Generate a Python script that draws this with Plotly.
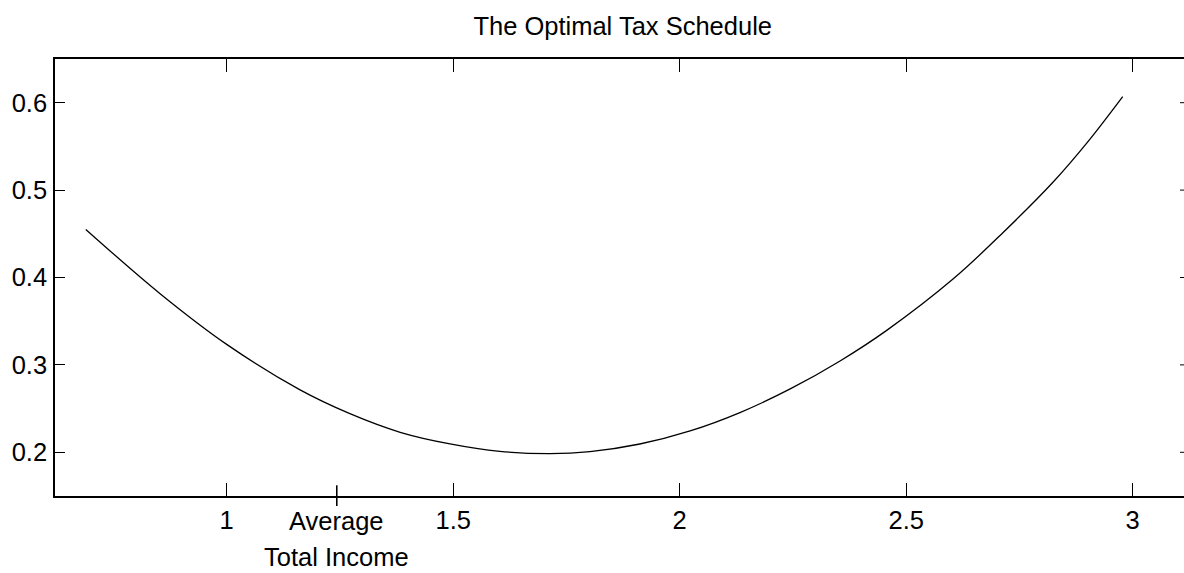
import plotly.graph_objects as go

# ---- data ----
income = [0.689, 0.853, 1.000, 1.162, 1.272, 1.383, 1.493, 1.603, 1.714, 1.802,
          1.912, 2.023, 2.133, 2.244, 2.354, 2.457, 2.604, 2.714, 2.825, 2.899, 2.978]
tax_rate = [0.455, 0.3815, 0.3235, 0.2714, 0.2442, 0.2229, 0.2096, 0.2011, 0.1985, 0.2008,
            0.2095, 0.2245, 0.2455, 0.2725, 0.3045, 0.3395, 0.3985, 0.4515, 0.5095, 0.5540, 0.607]
x_ticks = [1, 1.5, 2, 2.5, 3]
x_tick_text = ["1", "1.5", "2", "2.5", "3"]
y_ticks = [0.2, 0.3, 0.4, 0.5, 0.6]
y_tick_text = ["0.2", "0.3", "0.4", "0.5", "0.6"]
avg_income = 1.243
avg_label = ["Average", "Total Income"]
title_text = "The Optimal Tax Schedule"

# ---- layout geometry ----
W, H = 1184, 573
ML, MT, MB = 55, 59, 77
plot_w = W - ML
plot_h = H - MT - MB
x_range = [0.621, 0.621 + plot_w / 453.0]
y_range = [0.15, 0.65]
FONT = "Liberation Sans, Arial, Helvetica, sans-serif"
FS = 25.5

fig = go.Figure()
fig.add_trace(go.Scatter(x=income, y=tax_rate, mode="lines",
                         line=dict(color="black", width=1.3, shape="spline", smoothing=1.0),
                         showlegend=False, hoverinfo="skip"))

fig.update_xaxes(range=x_range, tickvals=x_ticks, ticktext=x_tick_text,
                 ticks="inside", ticklen=13, tickwidth=1, tickcolor="black",
                 showline=True, linecolor="black", linewidth=1.6, mirror="ticks",
                 showgrid=False, zeroline=False, automargin=False,
                 tickfont=dict(family=FONT, size=FS, color="black"),
                 ticklabelstandoff=1)
fig.update_yaxes(range=y_range, tickvals=y_ticks, ticktext=y_tick_text,
                 ticks="inside", ticklen=10, tickwidth=1, tickcolor="black",
                 showline=True, linecolor="black", linewidth=1.6, mirror=False,
                 showgrid=False, zeroline=False, automargin=False,
                 tickfont=dict(family=FONT, size=FS, color="black"),
                 ticklabelstandoff=1)

shapes = []
# right-hand tick marks (the right axis line falls just outside the picture)
for yv in y_ticks:
    shapes.append(dict(type="line", xref="paper", yref="y",
                       x0=1 - 4.0 / plot_w, x1=1.0, y0=yv, y1=yv,
                       line=dict(color="black", width=1)))
# longer tick marking average total income, crossing the axis
shapes.append(dict(type="line", xref="x", yref="paper",
                   x0=avg_income, x1=avg_income,
                   y0=-10.0 / plot_h, y1=10.7 / plot_h,
                   line=dict(color="black", width=1.6)))

annotations = [
    dict(text=avg_label[0], x=avg_income, xref="x", y=0, yref="paper",
         xanchor="center", yanchor="middle", yshift=-25, showarrow=False,
         font=dict(family=FONT, size=FS, color="black")),
    dict(text=avg_label[1], x=avg_income, xref="x", y=0, yref="paper",
         xanchor="center", yanchor="middle", yshift=-61, showarrow=False,
         font=dict(family=FONT, size=FS, color="black")),
]

fig.update_layout(
    width=W, height=H,
    margin=dict(l=ML, r=0, t=MT, b=MB, pad=0, autoexpand=False),
    paper_bgcolor="white", plot_bgcolor="white",
    title=dict(text=title_text, x=(622.7 - ML) / plot_w, xref="paper", xanchor="center",
               y=1 - 26.0 / H, yref="container", yanchor="middle",
               font=dict(family=FONT, size=FS, color="black")),
    shapes=shapes, annotations=annotations,
    showlegend=False,
)

fig.write_html("out.html", config={"displayModeBar": False},
               post_script="document.body.style.margin='0';document.body.style.overflow='hidden';")
